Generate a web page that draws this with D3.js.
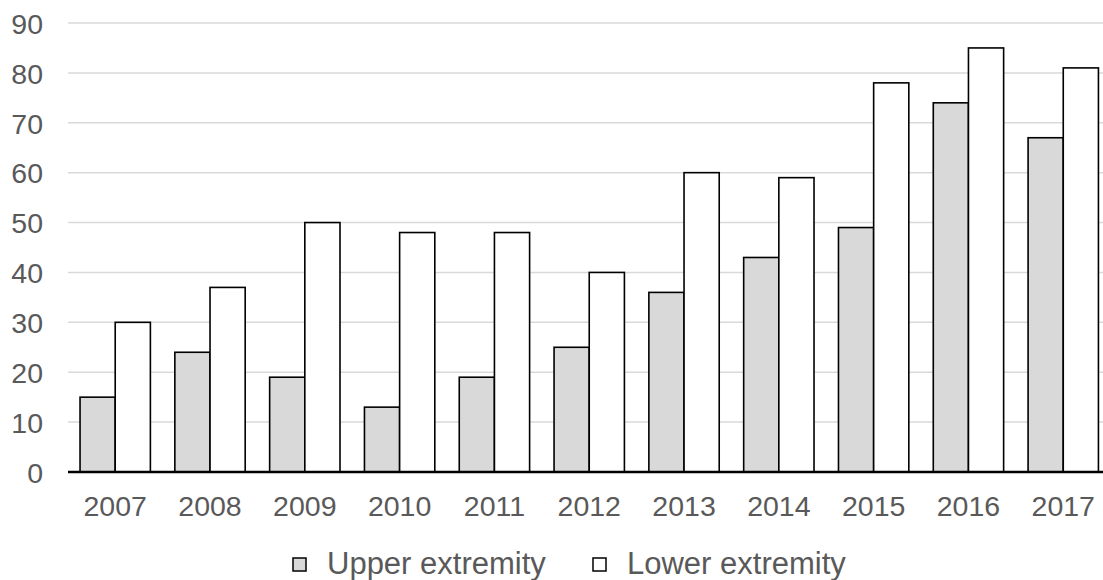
<!DOCTYPE html>
<html>
<head>
<meta charset="utf-8">
<script src="https://cdn.jsdelivr.net/npm/d3@7"></script>
<style>
  html, body { margin: 0; padding: 0; background: #fff; }
  svg { display: block; }
  text { font-family: "Liberation Sans", Arial, sans-serif; fill: #595959; }
</style>
</head>
<body>
<svg id="chart" width="1103" height="580"></svg>
<script>
const years = ["2007", "2008", "2009", "2010", "2011", "2012", "2013", "2014", "2015", "2016", "2017"];
const upperExtremity = [15, 24, 19, 13, 19, 25, 36, 43, 49, 74, 67];
const lowerExtremity = [30, 37, 50, 48, 48, 40, 60, 59, 78, 85, 81];
const seriesNames = ["Upper extremity", "Lower extremity"];
const seriesFills = ["#d9d9d9", "#ffffff"];
const yTicks = [0, 10, 20, 30, 40, 50, 60, 70, 80, 90];

const svg = d3.select("#chart");
const left = 68, step = 94.77;
const y0 = 472, y90 = 23;

const x = d3.scaleBand()
  .domain(years)
  .range([left, left + step * years.length])
  .paddingInner(0.258)
  .paddingOuter(0.127);

const xs = d3.scaleBand()
  .domain(seriesNames)
  .range([0, x.bandwidth()]);

const y = d3.scaleLinear().domain([0, 90]).range([y0, y90]);

// horizontal gridlines
svg.append("g")
  .selectAll("line")
  .data(yTicks.filter(d => d > 0))
  .join("line")
  .attr("x1", left).attr("x2", 1103)
  .attr("y1", d => y(d)).attr("y2", d => y(d))
  .attr("stroke", "#d9d9d9").attr("stroke-width", 1.5);

// y tick labels
const yAxis = d3.axisLeft(y).tickValues(yTicks).tickSize(0).tickPadding(0);
const gy = svg.append("g").attr("transform", "translate(43,0)").call(yAxis);
gy.select(".domain").remove();
gy.selectAll("text")
  .attr("font-size", 28.5)
  .attr("font-family", "Liberation Sans, Arial, sans-serif")
  .attr("fill", "#595959")
  .attr("dy", "0.36em");

// bars
const rows = years.map((yr, i) => ({ year: yr, values: [upperExtremity[i], lowerExtremity[i]] }));
const groups = svg.append("g")
  .selectAll("g")
  .data(rows)
  .join("g")
  .attr("transform", d => `translate(${x(d.year)},0)`);

groups.selectAll("rect")
  .data(d => d.values.map((v, k) => ({ name: seriesNames[k], value: v, fill: seriesFills[k] })))
  .join("rect")
  .attr("x", d => xs(d.name))
  .attr("width", xs.bandwidth())
  .attr("y", d => y(d.value))
  .attr("height", d => y(0) - y(d.value))
  .attr("fill", d => d.fill)
  .attr("stroke", "#000")
  .attr("stroke-width", 1.6);

// x axis
const xAxis = d3.axisBottom(x).tickSize(0).tickPadding(0);
const gx = svg.append("g").attr("transform", `translate(0,${y0})`).call(xAxis);
gx.select(".domain").remove();
gx.selectAll("text")
  .attr("font-size", 28.5)
  .attr("font-family", "Liberation Sans, Arial, sans-serif")
  .attr("fill", "#595959")
  .attr("dy", null)
  .attr("y", 44);
svg.append("line")
  .attr("x1", left).attr("x2", 1103)
  .attr("y1", y0).attr("y2", y0)
  .attr("stroke", "#000").attr("stroke-width", 2.5);

// legend
const legendItems = [
  { name: seriesNames[0], fill: seriesFills[0], sx: 293, tx: 327 },
  { name: seriesNames[1], fill: seriesFills[1], sx: 593, tx: 627 }
];
const lg = svg.append("g");
legendItems.forEach(it => {
  lg.append("rect")
    .attr("x", it.sx).attr("y", 558)
    .attr("width", 13).attr("height", 13)
    .attr("fill", it.fill).attr("stroke", "#000").attr("stroke-width", 1.5);
  lg.append("text")
    .attr("x", it.tx).attr("y", 574)
    .attr("font-size", 31)
    .text(it.name);
});
</script>
</body>
</html>
